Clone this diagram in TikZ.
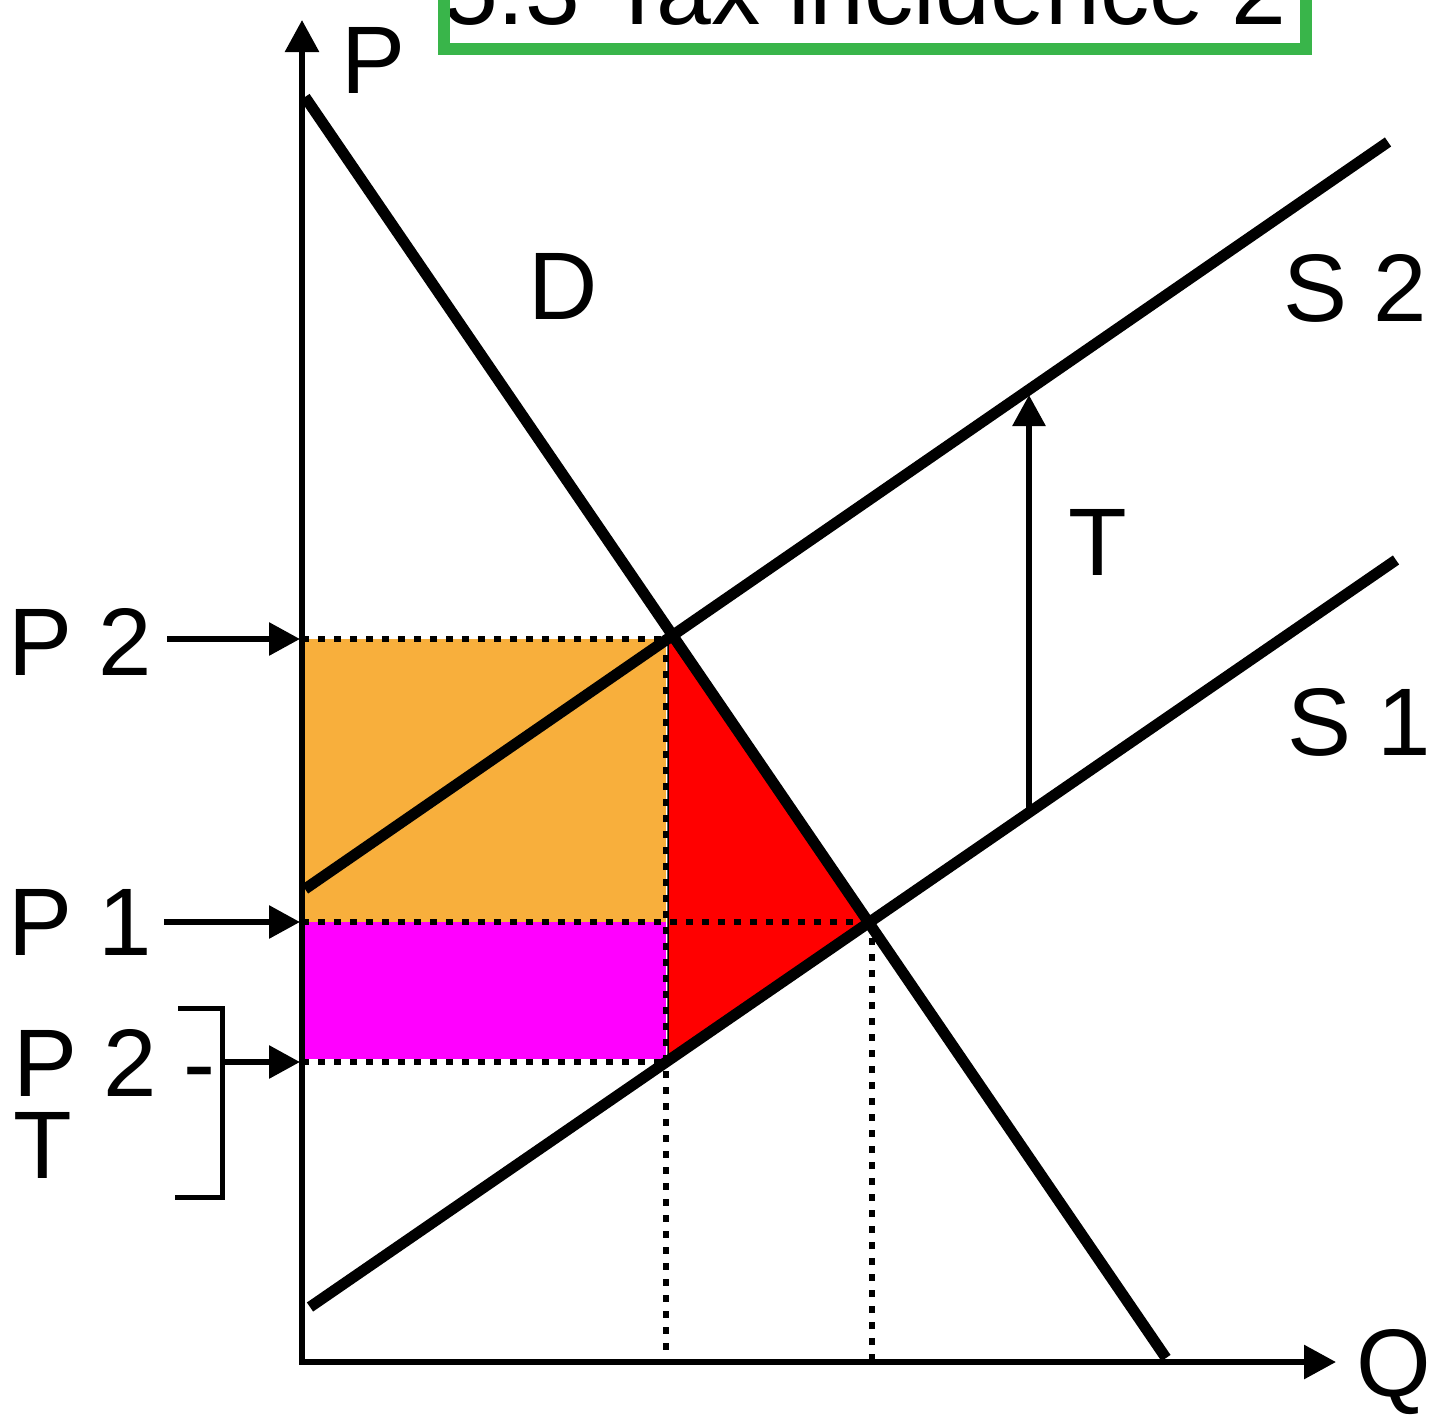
\documentclass[tikz,border=0pt]{standalone}
\usepackage{fontspec}
\setmainfont{Liberation Sans}
\usetikzlibrary{arrows.meta}
\definecolor{taxorange}{RGB}{248,175,60}
\definecolor{taxmagenta}{RGB}{255,0,255}
\definecolor{taxred}{RGB}{255,0,0}
\definecolor{titlegreen}{RGB}{57,181,74}
\begin{document}
\begin{tikzpicture}[x=1pt,y=-1pt,
  lbl/.style={inner sep=0pt, anchor=base west, font=\fontsize{96}{96}\selectfont},
  curve/.style={line width=11pt},
  axisline/.style={line width=6pt, line join=miter},
  pointer/.style={line width=6pt, -{Triangle[length=31pt,width=32pt]}},
  dots/.style={line width=6.5pt, dash pattern=on 7pt off 9pt},
  hdots/.style={line width=5.5pt, dash pattern=on 7pt off 9pt},
]
\path[use as bounding box, clip] (0,0) rectangle (1431,1416);
\fill[white] (0,0) rectangle (1431,1416);

% key points
\coordinate (O) at (302,1362);
\coordinate (Ytop) at (302,20);
\coordinate (Xend) at (1336,1362);
\coordinate (Dtop) at (305,97);
\coordinate (Dbot) at (1166,1358);
\coordinate (S2l) at (305,889);
\coordinate (S2r) at (1388,142);
\coordinate (S1l) at (310,1307);
\coordinate (S1r) at (1396,560);
\coordinate (E1) at (869,923);
\coordinate (P2y) at (302,639);
\coordinate (P1y) at (302,922);
\coordinate (PTy) at (302,1062);
\coordinate (Q2top) at (666,639);
\coordinate (Q2mid) at (666,922);
\coordinate (Q2low) at (666,1062);
\coordinate (Q2bot) at (666,1362);
\coordinate (Q1top) at (872,922);
\coordinate (Q1bot) at (872,1362);
\coordinate (Ttail) at (1029,810);
\coordinate (Thead) at (1029,395);

% areas
\fill[taxorange] (P2y) rectangle (Q2mid);
\fill[taxmagenta] (P1y) rectangle (666,1059);
\draw[fill=taxred, line width=1.5pt] (668,637) -- (E1) -- (668,1062) -- cycle;

% dotted guides
\draw[hdots] (P2y) -- (Q2top);
\draw[hdots] (P1y) -- (E1 |- P1y);
\draw[hdots] (PTy) -- (Q2low);
\draw[dots] (Q2top) -- (Q2bot);
\draw[dots] (Q1top) -- (Q1bot);

% demand and supply
\draw[curve] (Dtop) -- (Dbot);
\draw[curve] (S2l) -- (S2r);
\draw[curve] (S1l) -- (S1r);

% axes
\draw[axisline, {Triangle[length=32pt,width=33pt]}-{Triangle[length=32pt,width=33pt]}] (Ytop) -- (O) -- (Xend);

% tax arrow
\draw[pointer] (Ttail) -- (Thead);

% price pointers
\coordinate (P2s) at (167,639);
\coordinate (P1s) at (164,922);
\coordinate (PTs) at (222,1062);
\draw[pointer] (P2s) -- (300,639);
\draw[pointer] (P1s) -- (300,922);
\draw[pointer] (PTs) -- (300,1062);
\draw[line width=5pt, line join=miter] (178,1008) -- (222,1008) -- (222,1197) -- (175,1197);

% labels
\node[lbl] (lP) at (341,93) {P};
\node[lbl] (lQ) at (1356,1396) {Q};
\node[lbl] (lD) at (528,319) {D};
\node[lbl] (lS2) at (1283,321) {S 2};
\node[lbl] (lS1) at (1287,755) {S 1};
\node[lbl] (lT) at (1068,575) {T};
\node[lbl] (lP2) at (8,675) {P 2};
\node[lbl] (lP1) at (8,955) {P 1};
\node[lbl] (lPT) at (13,1096) {P 2 -};
\node[lbl] (lPT2) at (13,1178) {T};

% title
\node[lbl, font=\fontsize{98.5}{98.5}\selectfont] (title) at (443,24) {5.3 Tax incidence 2};
\draw[titlegreen, line width=12pt] (444,-80) rectangle (1306,49);
\end{tikzpicture}
\end{document}
